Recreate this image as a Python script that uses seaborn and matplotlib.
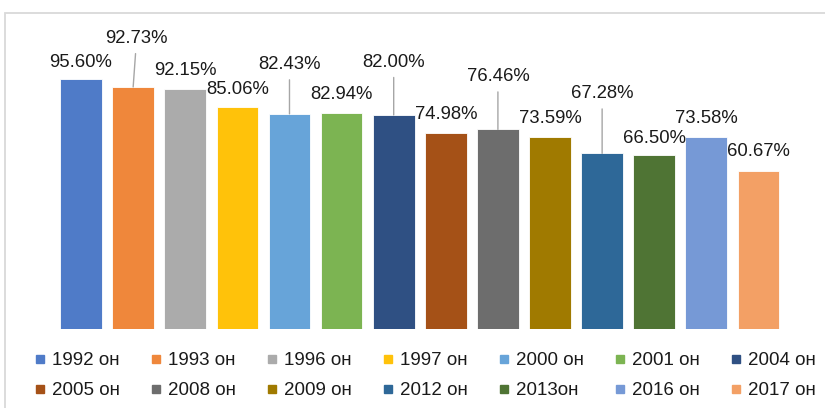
import matplotlib
matplotlib.use("Agg")
import matplotlib.pyplot as plt
from matplotlib.lines import Line2D
from matplotlib.patches import Rectangle
import seaborn as sns
import pandas as pd

# ---- data ----
years = ["1992", "1993", "1996", "1997", "2000", "2001", "2004",
         "2005", "2008", "2009", "2012", "2013", "2016", "2017"]
values = [95.60, 92.73, 92.15, 85.06, 82.43, 82.94, 82.00,
          74.98, 76.46, 73.59, 67.28, 66.50, 73.58, 60.67]
legend_labels = ["1992 он", "1993 он", "1996 он", "1997 он", "2000 он", "2001 он", "2004 он",
                 "2005 он", "2008 он", "2009 он", "2012 он", "2013он", "2016 он", "2017 он"]

# ---- styles ----
colors = ["#4F7BC8", "#EF873B", "#ABABAB", "#FFC20A", "#67A4D9", "#7CB452", "#2F5083",
          "#A55117", "#6D6D6D", "#A07A00", "#2E6898", "#4F7434", "#7699D6", "#F3A065"]
# label offsets above bar top (points): (dx, dy), and whether a leader line is drawn
label_dy = [12.5, 35, 13, 12.5, 35.5, 13, 38, 13.5, 38, 13.5, 43, 12.5, 13, 13.5]
label_dx = [0, 2.5, 0, 0, 0, 0, 0, 0, 0, 0, 0, 0, 0, 0]
leader = [False, True, False, False, True, False, True,
          False, True, False, True, False, False, False]

sns.set_style("white")
plt.rcParams["font.family"] = ["Liberation Sans", "DejaVu Sans"]

fig = plt.figure(figsize=(8.25, 4.08), dpi=100)
fig.patch.set_facecolor("white")

# outer chart border (light gray)
fig.patches.append(Rectangle((5 / 825, -0.05), 1.0, (408 - 12.5) / 408 + 0.05,
                             transform=fig.transFigure, fill=False,
                             edgecolor="#D9D9D9", linewidth=1.3, zorder=0))

ax = fig.add_axes([55 / 825, 0.1936, (784.5 - 55) / 825, 0.6397])
df = pd.DataFrame({"year": years, "value": values})
sns.barplot(data=df, x="year", y="value", hue="year", palette=colors,
            width=0.8, legend=False, ax=ax, edgecolor="white", linewidth=0.6,
            saturation=1)
ax.set_xlim(-0.5, len(years) - 0.5)
ax.set_ylim(0, 100)
ax.set_axis_off()

for i, v in enumerate(values):
    ap = None
    if leader[i]:
        ap = dict(arrowstyle="-", color="#A6A6A6", lw=1.0, shrinkA=2.5, shrinkB=0)
    ax.annotate(f"{v:.2f}%", xy=(i, v), xytext=(label_dx[i], label_dy[i]),
                textcoords="offset points", ha="center", va="center",
                fontsize=13.3, color="#1A1A1A", annotation_clip=False,
                arrowprops=ap)

handles = [Line2D([0], [0], marker="s", linestyle="none", markersize=5.8,
                  markerfacecolor=c, markeredgecolor=c) for c in colors]
# legend fills column by column; reorder so entries read row by row
ncol = 7
order = [r * ncol + c for c in range(ncol) for r in range(2)]
fig.legend([handles[k] for k in order], [legend_labels[k] for k in order],
           ncol=ncol, loc="center",
           bbox_to_anchor=(0.516, 0.079), frameon=False, fontsize=13.5,
           handlelength=0.45, handletextpad=0.37, columnspacing=1.75,
           labelspacing=0.68, labelcolor="#1A1A1A")

fig.savefig("out.png", dpi=100, facecolor="white")
